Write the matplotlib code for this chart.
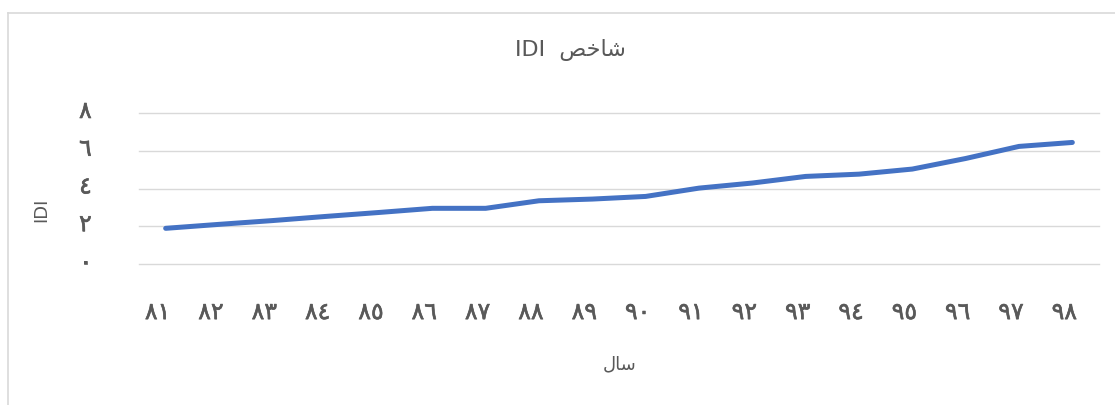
import numpy as np
import matplotlib.pyplot as plt
import matplotlib.patheffects as pe
from matplotlib.lines import Line2D
from matplotlib.transforms import ScaledTranslation

# ---------------------------- data ----------------------------
years = ['٨١', '٨٢', '٨٣', '٨٤', '٨٥', '٨٦', '٨٧', '٨٨', '٨٩',
         '٩٠', '٩١', '٩٢', '٩٣', '٩٤', '٩٥', '٩٦', '٩٧', '٩٨']
idi = [1.89, 2.10, 2.30, 2.52, 2.73, 2.95, 2.95, 3.35, 3.44,
       3.58, 4.02, 4.29, 4.64, 4.76, 5.03, 5.59, 6.23, 6.44]
yticks = [0, 2, 4, 6, 8]
ytick_labels = ['٠', '٢', '٤', '٦', '٨']

# Arabic text written in presentation forms (visual order) since matplotlib does no shaping
title_txt = 'IDI  ' + '\uFEBA\uFEA7\uFE8E\uFEB7'   # شاخص IDI
xlabel_txt = '\uFEDD\uFE8E\uFEB3'                   # سال

grey = '#595959'

# ---------------------------- plot ----------------------------
fig = plt.figure(figsize=(11.15, 4.06), dpi=100)
ax = fig.add_axes([139/1115, 1 - 265/406, 960/1115, 151/406])

x = np.arange(len(years))
ax.plot(x, idi, color='#4472C4', lw=3.6, solid_capstyle='round', solid_joinstyle='round')

ax.set_xlim(-0.5, len(years) - 0.5)
ax.set_ylim(0, 8)
ax.set_xticks(x)
ax.set_xticklabels(years, fontsize=17, color=grey)
ax.set_yticks(yticks)
ax.set_yticklabels(ytick_labels, fontsize=17, color=grey)
ax.tick_params(axis='x', length=0, pad=26)
ax.tick_params(axis='y', length=0, pad=34)
ax.yaxis.grid(True, color='#D9D9D9', lw=1)
for gl in ax.get_ygridlines():
    gl.set_clip_on(False)
ax.set_axisbelow(True)
for s in ax.spines.values():
    s.set_visible(False)

# nudge / thicken tick labels a little, like the original
thick = [pe.withStroke(linewidth=0.45, foreground=grey)]
for lbl in ax.get_xticklabels():
    lbl.set_transform(lbl.get_transform() + ScaledTranslation(-0.08, 0, fig.dpi_scale_trans))
    lbl.set_path_effects(thick)
for lbl in ax.get_yticklabels():
    lbl.set_transform(lbl.get_transform() + ScaledTranslation(0, 0.045, fig.dpi_scale_trans))
    lbl.set_path_effects(thick)

fig.text(570/1115, 1 - 50/406, title_txt, ha='center', va='center', fontsize=16, color=grey)
fig.text(620/1115, 1 - 364/406, xlabel_txt, ha='center', va='center', fontsize=13, color=grey)
fig.text(41/1115, 1 - 210/406, 'IDI', ha='center', va='center', rotation=90, fontsize=13, color=grey)

# chart frame (only left and top edges visible)
fig.add_artist(Line2D([8/1115, 8/1115], [0, 1 - 14/406], color='#D9D9D9', lw=1.2))
fig.add_artist(Line2D([8/1115, 1], [1 - 14/406, 1 - 14/406], color='#D9D9D9', lw=1.2))

fig.savefig('out.png', dpi=100)
